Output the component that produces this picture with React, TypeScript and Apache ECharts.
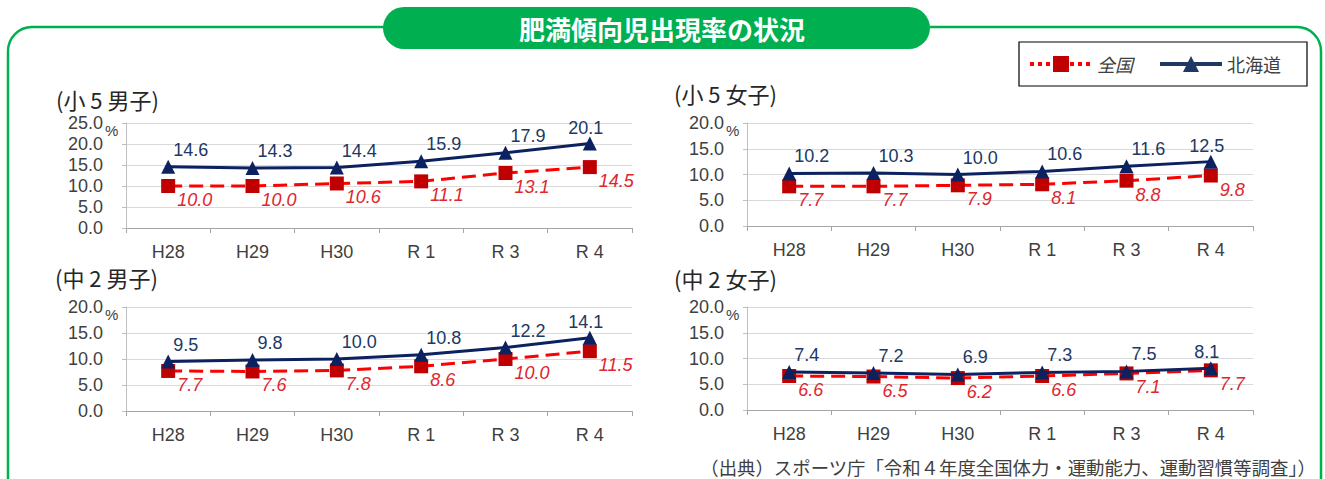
import React, { useEffect, useRef } from "react";
import * as echarts from "echarts";

// ---- data ----
const categories = ["H28", "H29", "H30", "R 1", "R 3", "R 4"];
const panelTitles = ["(小 5 男子)", "(小 5 女子)", "(中 2 男子)", "(中 2 女子)"];
const zenkokuShou5Boys = [10.0, 10.0, 10.6, 11.1, 13.1, 14.5];
const hokkaidoShou5Boys = [14.6, 14.3, 14.4, 15.9, 17.9, 20.1];
const zenkokuShou5Girls = [7.7, 7.7, 7.9, 8.1, 8.8, 9.8];
const hokkaidoShou5Girls = [10.2, 10.3, 10.0, 10.6, 11.6, 12.5];
const zenkokuChu2Boys = [7.7, 7.6, 7.8, 8.6, 10.0, 11.5];
const hokkaidoChu2Boys = [9.5, 9.8, 10.0, 10.8, 12.2, 14.1];
const zenkokuChu2Girls = [6.6, 6.5, 6.2, 6.6, 7.1, 7.7];
const hokkaidoChu2Girls = [7.4, 7.2, 6.9, 7.3, 7.5, 8.1];
const yMaxes = [25, 20, 20, 20];
const yInterval = 5;
const mainTitle = "肥満傾向児出現率の状況";
const sourceText = "（出典）スポーツ庁「令和４年度全国体力・運動能力、運動習慣等調査」）";
const seriesNames = ["全国", "北海道"];

const zenkokuSets = [zenkokuShou5Boys, zenkokuShou5Girls, zenkokuChu2Boys, zenkokuChu2Girls];
const hokkaidoSets = [hokkaidoShou5Boys, hokkaidoShou5Girls, hokkaidoChu2Boys, hokkaidoChu2Girls];

// ---- layout / style ----
const W = 1325;
const H = 479;
const JP = "'Noto Sans CJK JP', 'Noto Sans', sans-serif";
const NUM = "'Liberation Sans', Arial, sans-serif";
const GREEN = "#00B050";
const NAVY = "#0B2160";
const NAVY_TEXT = "#203864";
const RED_LINE = "#FF0000";
const RED_MARK = "#C00000";
const RED_TEXT = "#E0262D";
const TEXT = "#404040";

const grids = [
  { left: 126, top: 123, width: 506, height: 105 },
  { left: 747, top: 123, width: 506, height: 103 },
  { left: 126, top: 307, width: 506, height: 104 },
  { left: 747, top: 307, width: 506, height: 103 },
];
const titlePos = [
  [56, 99],
  [674, 93],
  [55, 277],
  [674, 278],
];

function buildOption() {
  const xAxis: any[] = [];
  const yAxis: any[] = [];
  const series: any[] = [];
  const graphic: any[] = [];

  graphic.push({
    type: "rect",
    shape: { x: 8, y: 27, width: 1313, height: 520, r: 24 },
    style: { fill: "none", stroke: GREEN, lineWidth: 2.5 },
    z: 1,
  });
  graphic.push({
    type: "rect",
    shape: { x: 383, y: 7, width: 547, height: 42, r: 21 },
    style: { fill: GREEN },
    z: 2,
  });
  graphic.push({
    type: "text",
    x: 662,
    y: 28,
    z: 3,
    style: {
      text: mainTitle,
      fill: "#FFFFFF",
      fontSize: 26,
      fontWeight: "bold",
      fontFamily: JP,
      align: "center",
      verticalAlign: "middle",
    },
  });
  graphic.push({
    type: "text",
    x: 1316,
    y: 467,
    z: 3,
    style: {
      text: sourceText,
      fill: TEXT,
      fontSize: 18.4,
      fontFamily: JP,
      align: "right",
      verticalAlign: "middle",
    },
  });

  grids.forEach((g, i) => {
    graphic.push({
      type: "text",
      x: titlePos[i][0],
      y: titlePos[i][1],
      z: 3,
      style: {
        text: panelTitles[i],
        fill: "#262626",
        fontSize: 22,
        fontFamily: JP,
        align: "left",
        verticalAlign: "middle",
      },
    });
    graphic.push({
      type: "text",
      x: g.left - 21,
      y: g.top + 7,
      z: 3,
      style: {
        text: "%",
        fill: TEXT,
        fontSize: 15,
        fontFamily: NUM,
        align: "left",
        verticalAlign: "middle",
      },
    });

    xAxis.push({
      type: "category",
      gridIndex: i,
      data: categories,
      boundaryGap: true,
      axisLine: { lineStyle: { color: "#A6A6A6", width: 1.2 } },
      axisTick: { show: true, length: 5, lineStyle: { color: "#A6A6A6" } },
      axisLabel: { fontSize: 18, color: TEXT, margin: 15, fontFamily: NUM },
      splitLine: { show: false },
    });
    yAxis.push({
      type: "value",
      gridIndex: i,
      min: 0,
      max: yMaxes[i],
      interval: yInterval,
      axisLine: { show: true, lineStyle: { color: "#BFBFBF" } },
      axisTick: { show: true, length: 4, lineStyle: { color: "#BFBFBF" } },
      axisLabel: {
        fontSize: 18,
        color: TEXT,
        margin: 23,
        fontFamily: NUM,
        formatter: (v: number) => v.toFixed(1),
      },
      splitLine: { show: true, lineStyle: { color: "#D9D9D9", width: 1 } },
    });

    const zen = zenkokuSets[i];
    const hok = hokkaidoSets[i];
    series.push({
      type: "line",
      name: seriesNames[0],
      xAxisIndex: i,
      yAxisIndex: i,
      data: zen,
      symbol: "rect",
      symbolSize: 14,
      itemStyle: { color: RED_MARK },
      lineStyle: { color: RED_LINE, width: 3, type: [14, 7] },
      emphasis: { disabled: true },
      z: 2,
      label: {
        show: true,
        position: "right",
        distance: 0,
        offset: [2, 14],
        color: RED_TEXT,
        fontStyle: "italic",
        fontSize: 18,
        fontFamily: NUM,
        formatter: (p: any) => Number(p.value).toFixed(1),
      },
    });
    series.push({
      type: "line",
      name: seriesNames[1],
      xAxisIndex: i,
      yAxisIndex: i,
      data: hok.map((v, j) =>
        j === hok.length - 1
          ? { value: v, label: { position: "top", distance: 0, offset: [-4, 0] } }
          : v
      ),
      symbol: "triangle",
      symbolSize: 14,
      itemStyle: { color: NAVY },
      lineStyle: { color: NAVY, width: 3, type: "solid" },
      emphasis: { disabled: true },
      z: 3,
      label: {
        show: true,
        position: "right",
        distance: 0,
        offset: [-2, -17],
        color: NAVY_TEXT,
        fontSize: 18,
        fontFamily: NUM,
        formatter: (p: any) => Number(p.value).toFixed(1),
      },
    });
  });

  return {
    animation: false,
    backgroundColor: "#FFFFFF",
    grid: grids.map((g) => ({ ...g, containLabel: false })),
    xAxis,
    yAxis,
    series,
    graphic,
    legend: {
      left: 1019,
      top: 42,
      orient: "horizontal",
      padding: [13, 26, 13, 9],
      itemWidth: 62,
      itemHeight: 20,
      itemGap: 25,
      borderColor: "#000000",
      borderWidth: 1.2,
      backgroundColor: "#FFFFFF",
      selectedMode: false,
      textStyle: { fontSize: 18, color: TEXT, fontFamily: JP },
      data: [
        {
          name: seriesNames[0],
          lineStyle: { type: "dotted", width: 4, color: RED_LINE },
          itemStyle: { color: RED_MARK },
          textStyle: { fontStyle: "italic" },
        },
        {
          name: seriesNames[1],
          lineStyle: { type: "solid", width: 4, color: "#1F3864" },
          itemStyle: { color: "#1F3864" },
        },
      ],
    },
  };
}

export default function App() {
  const ref = useRef<HTMLDivElement>(null);
  useEffect(() => {
    document.body.style.margin = "0";
    if (!ref.current) return;
    const chart = echarts.init(ref.current, undefined, { renderer: "svg", width: W, height: H });
    chart.setOption(buildOption() as any);
    return () => chart.dispose();
  }, []);
  return <div ref={ref} style={{ width: W, height: H }} />;
}
